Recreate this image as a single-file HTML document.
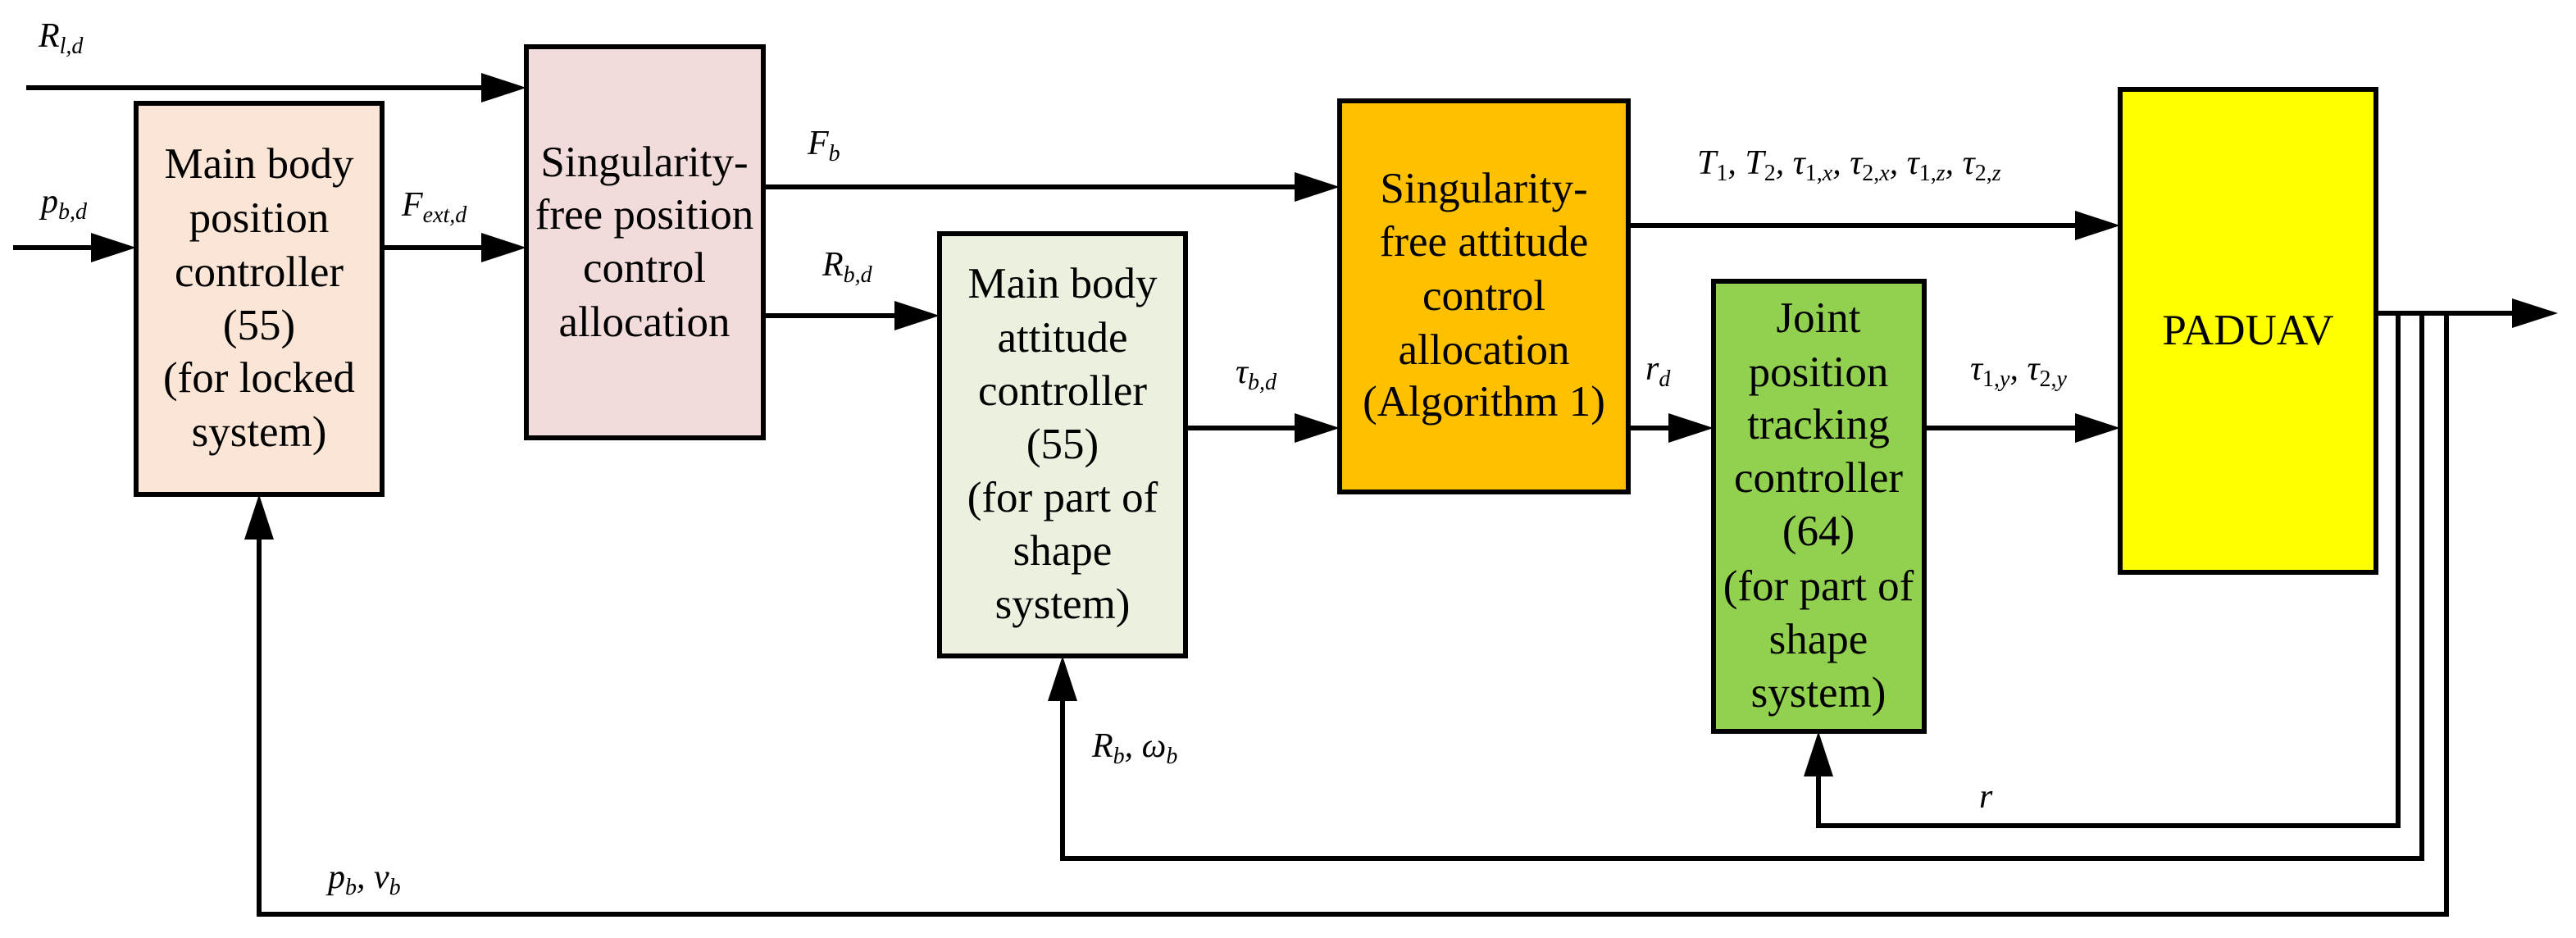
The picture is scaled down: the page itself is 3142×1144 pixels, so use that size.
<!DOCTYPE html>
<html><head><meta charset="utf-8"><style>html,body{margin:0;padding:0;background:#fff;overflow:hidden}svg{display:block}</style></head>
<body>
<svg xmlns="http://www.w3.org/2000/svg" width="3142" height="1144" viewBox="0 0 3142 1144">
<g fill="none" stroke="#000" stroke-width="6">
<line x1="32" y1="107" x2="600" y2="107"/>
<line x1="16" y1="302" x2="130" y2="302"/>
<line x1="466" y1="302" x2="600" y2="302"/>
<line x1="931" y1="228" x2="1590" y2="228"/>
<line x1="931" y1="385" x2="1100" y2="385"/>
<line x1="1446" y1="522" x2="1590" y2="522"/>
<line x1="1986" y1="275" x2="2540" y2="275"/>
<line x1="1986" y1="522" x2="2045" y2="522"/>
<line x1="2347" y1="522" x2="2540" y2="522"/>
<line x1="2898" y1="382" x2="3070" y2="382"/>
<polyline points="2925,382 2925,1007 2218,1007 2218,930"/>
<polyline points="2954,382 2954,1047 1296,1047 1296,840"/>
<polyline points="2984,382 2984,1115 316,1115 316,640"/>
</g>
<g fill="#000">
<polygon points="642,107 587,89 587,125"/>
<polygon points="166,302 111,284 111,320"/>
<polygon points="642,302 587,284 587,320"/>
<polygon points="1634,228 1579,210 1579,246"/>
<polygon points="1146,385 1091,367 1091,403"/>
<polygon points="1634,522 1579,504 1579,540"/>
<polygon points="2586,275 2531,257 2531,293"/>
<polygon points="2090,522 2035,504 2035,540"/>
<polygon points="2586,522 2531,504 2531,540"/>
<polygon points="3120,382 3064,364 3064,400"/>
<polygon points="2218,892 2200,947 2236,947"/>
<polygon points="1296,800 1278,855 1314,855"/>
<polygon points="316,603 298,658 334,658"/>
</g>
<g stroke="#000" stroke-width="6">
<rect x="166" y="126" width="300" height="477" fill="#FBE5D6"/>
<rect x="642" y="57" width="289" height="477" fill="#F2DCDB"/>
<rect x="1146" y="285" width="300" height="515" fill="#EBF1DE"/>
<rect x="1634" y="123" width="352" height="477" fill="#FFC000"/>
<rect x="2090" y="343" width="257" height="549" fill="#92D050"/>
<rect x="2586" y="109" width="312" height="589" fill="#FFFF00"/>
</g>
<g font-family="Liberation Serif, serif" font-size="53" text-anchor="middle" fill="#000">
<text x="316" y="217">Main body</text><text x="316" y="283">position</text><text x="316" y="349">controller</text><text x="316" y="414">(55)</text><text x="316" y="478">(for locked</text><text x="316" y="544">system)</text>
<text x="786" y="215">Singularity-</text><text x="786" y="279">free position</text><text x="786" y="344">control</text><text x="786" y="410">allocation</text>
<text x="1296" y="363">Main body</text><text x="1296" y="429">attitude</text><text x="1296" y="494">controller</text><text x="1296" y="559">(55)</text><text x="1296" y="624">(for part of</text><text x="1296" y="689">shape</text><text x="1296" y="754">system)</text>
<text x="1810" y="247">Singularity-</text><text x="1810" y="312">free attitude</text><text x="1810" y="378">control</text><text x="1810" y="444">allocation</text><text x="1810" y="507">(Algorithm 1)</text>
<text x="2218" y="405">Joint</text><text x="2218" y="471">position</text><text x="2218" y="535">tracking</text><text x="2218" y="600">controller</text><text x="2218" y="665">(64)</text><text x="2218" y="732">(for part of</text><text x="2218" y="797">shape</text><text x="2218" y="862">system)</text>
<text x="2742" y="420">PADUAV</text>
</g>
<g font-family="Liberation Serif, serif" font-style="italic" font-size="42" fill="#000">
<text x="47" y="57">R<tspan font-size="28" dy="8">l,d</tspan></text>
<text x="50" y="259">p<tspan font-size="28" dy="8">b,d</tspan></text>
<text x="490" y="263">F<tspan font-size="28" dy="8">ext,d</tspan></text>
<text x="985" y="188">F<tspan font-size="28" dy="8">b</tspan></text>
<text x="1003" y="336">R<tspan font-size="28" dy="8">b,d</tspan></text>
<text x="1507" y="467">τ<tspan font-size="28" dy="8">b,d</tspan></text>
<text x="1332" y="923">R<tspan font-size="28" dy="8">b</tspan><tspan dy="-8">, ω</tspan><tspan font-size="28" dy="8">b</tspan></text>
<text x="400" y="1083">p<tspan font-size="28" dy="8">b</tspan><tspan dy="-8">, v</tspan><tspan font-size="28" dy="8">b</tspan></text>
<text x="2070" y="212">T<tspan font-size="28" dy="8" font-style="normal">1</tspan><tspan dy="-8">, T</tspan><tspan font-size="28" dy="8" font-style="normal">2</tspan><tspan dy="-8">, τ</tspan><tspan font-size="28" dy="8"><tspan font-style="normal">1,</tspan>x</tspan><tspan dy="-8">, τ</tspan><tspan font-size="28" dy="8"><tspan font-style="normal">2,</tspan>x</tspan><tspan dy="-8">, τ</tspan><tspan font-size="28" dy="8"><tspan font-style="normal">1,</tspan>z</tspan><tspan dy="-8">, τ</tspan><tspan font-size="28" dy="8"><tspan font-style="normal">2,</tspan>z</tspan></text>
<text x="2007" y="463">r<tspan font-size="28" dy="8">d</tspan></text>
<text x="2403" y="463">τ<tspan font-size="28" dy="8"><tspan font-style="normal">1,</tspan>y</tspan><tspan dy="-8">, τ</tspan><tspan font-size="28" dy="8"><tspan font-style="normal">2,</tspan>y</tspan></text>
<text x="2414" y="985">r</text>
</g>
</svg>
</body></html>
